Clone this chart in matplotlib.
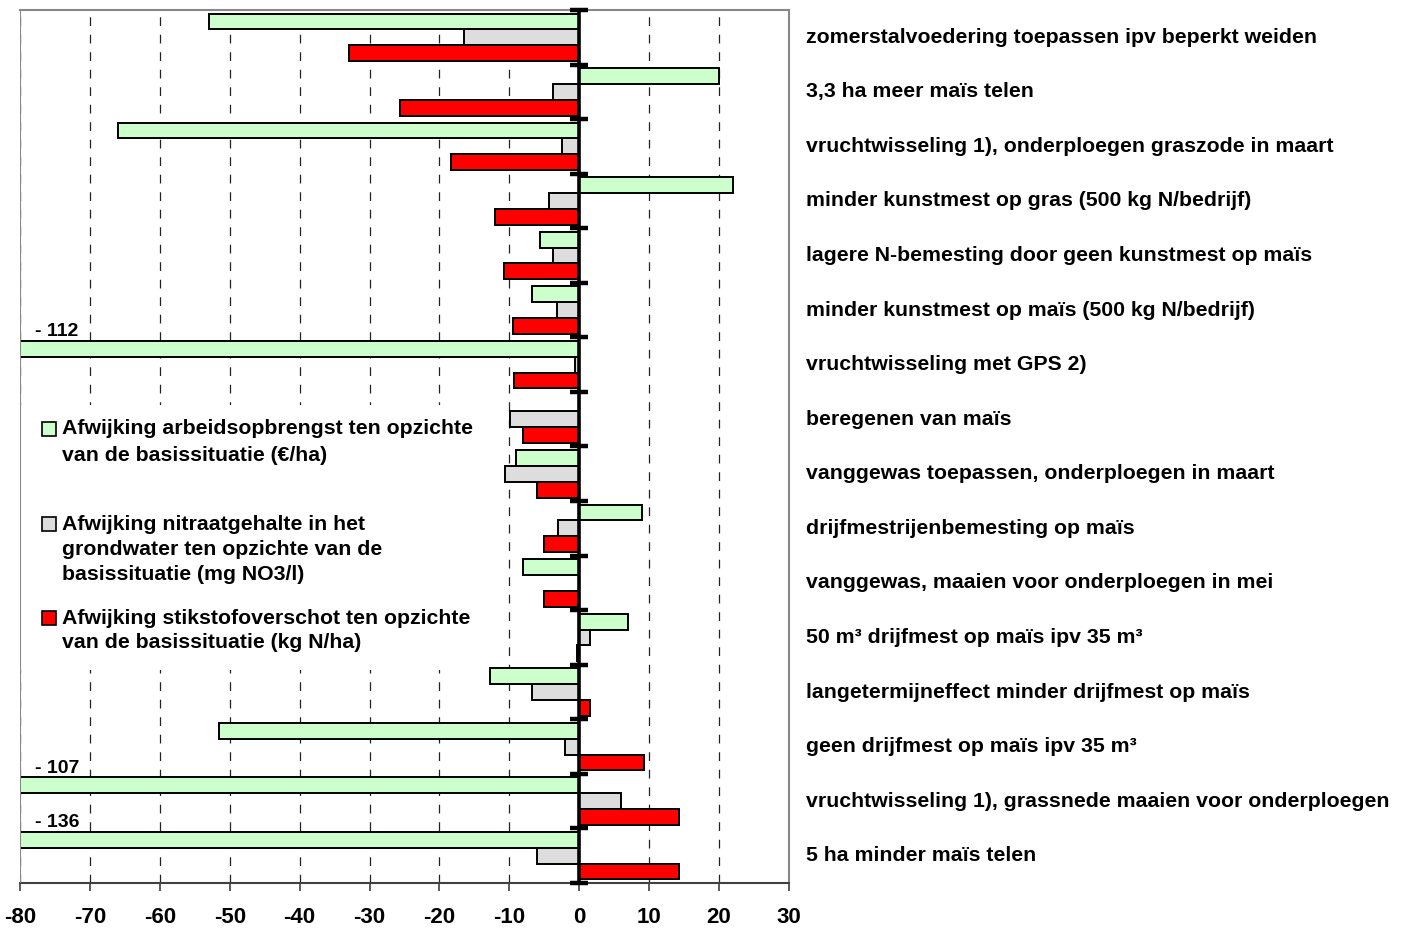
import matplotlib.pyplot as plt
import matplotlib.transforms as mtransforms
from matplotlib.patches import Rectangle
import numpy as np

plt.rcParams['font.family'] = ['Liberation Sans', 'DejaVu Sans']
plt.rcParams['font.weight'] = 'bold'
plt.rcParams['axes.unicode_minus'] = False

# Maatregelen (van boven naar beneden)
maatregelen = [
    'zomerstalvoedering toepassen ipv beperkt weiden',
    '3,3 ha meer maïs telen',
    'vruchtwisseling 1), onderploegen graszode in maart',
    'minder kunstmest op gras (500 kg N/bedrijf)',
    'lagere N-bemesting door geen kunstmest op maïs',
    'minder kunstmest op maïs (500 kg N/bedrijf)',
    'vruchtwisseling met GPS 2)',
    'beregenen van maïs',
    'vanggewas toepassen, onderploegen in maart',
    'drijfmestrijenbemesting op maïs',
    'vanggewas, maaien voor onderploegen in mei',
    '50 m³ drijfmest op maïs ipv 35 m³',
    'langetermijneffect minder drijfmest op maïs',
    'geen drijfmest op maïs ipv 35 m³',
    'vruchtwisseling 1), grassnede maaien voor onderploegen',
    '5 ha minder maïs telen',
]

# Afwijking arbeidsopbrengst (euro/ha)
arbeid = [-53, 20, -66, 22, -5.6, -6.8, -112, 0, -9, 9, -8, 7, -12.8, -51.5, -107, -136]
# Afwijking nitraatgehalte grondwater (mg NO3/l)
nitraat = [-16.5, -3.7, -2.4, -4.4, -3.8, -3.2, -0.6, -9.9, -10.6, -3, 0, 1.6, -6.8, -2, 5.9, -6]
# Afwijking stikstofoverschot (kg N/ha)
stikstof = [-33, -25.7, -18.4, -12, -10.7, -9.5, -9.4, -8, -6, -5.1, -5.1, -0.3, 1.6, 9.2, 14.2, 14.2]

legenda = [
    ['Afwijking arbeidsopbrengst ten opzichte', 'van de basissituatie (€/ha)'],
    ['Afwijking nitraatgehalte in het', 'grondwater ten opzichte van de',
     'basissituatie (mg NO3/l)'],
    ['Afwijking stikstofoverschot ten opzichte', 'van de basissituatie (kg N/ha)'],
]
kleuren = ['#CCFFCC', '#DDDDDD', '#FF0000']

W, H = 1406, 930
fig = plt.figure(figsize=(W / 100, H / 100), dpi=100)
ax = fig.add_axes([20 / W, 1 - 883 / H, 769 / W, 873 / H])

y = np.arange(len(maatregelen))
h = 0.29
for reeks, kleur, off in zip([arbeid, nitraat, stikstof], kleuren, [-h, 0, h]):
    ax.barh(y + off, reeks, height=h, color=kleur, edgecolor='black',
            linewidth=1.4, zorder=3)

ax.set_xlim(-80, 30)
ax.set_ylim(len(maatregelen) - 0.5, -0.5)
ax.set_xticks(np.arange(-80, 31, 10))
ax.tick_params(axis='x', direction='out', length=6, width=1.2, color='#404040',
               pad=11, labelsize=16)
for lbl in ax.get_xticklabels():
    lbl.set_fontweight('bold')

# y-as op x = 0 met streepjes tussen de maatregelen
ax.spines['left'].set_position(('data', 0))
ax.spines['left'].set_linewidth(2.6)
ax.spines['left'].set_zorder(5)
ax.set_yticks(np.arange(len(maatregelen) + 1) - 0.5)
ax.set_yticklabels([])
ax.tick_params(axis='y', direction='inout', length=13, width=3.2, color='black')

for kant in ['top', 'right']:
    ax.spines[kant].set_color('#888888')
    ax.spines[kant].set_linewidth(1.5)
ax.spines['bottom'].set_color('#404040')
ax.spines['bottom'].set_linewidth(1.5)
ax.axvline(-80, color='#888888', lw=1.5, zorder=4)

ax.grid(axis='x', linestyle=(0, (7, 7)), color='#222222', linewidth=0.9)
ax.set_axisbelow(True)
ax.yaxis.set_zorder(5)

# labels voor balken die buiten de as vallen
for i, v in enumerate(arbeid):
    if v < -80:
        ax.text(-77.8, i - h - h / 2 - 0.17, f'- {abs(v):g}', fontsize=14,
                fontweight='bold', ha='left', va='center', zorder=6)

# maatregelen rechts van de grafiek
trans = mtransforms.blended_transform_factory(ax.transAxes, ax.transData)
for i, naam in enumerate(maatregelen):
    ax.text((806 - 20) / 769, i, naam, transform=trans, fontsize=15.3,
            fontweight='bold', ha='left', va='center', clip_on=False)

# legenda in een wit vlak binnen de grafiek
def fx(px):
    return (px - 20) / 769

def fy(py):
    return (883 - py) / 873

ax.add_patch(Rectangle((fx(21), fy(670)), fx(495) - fx(21), fy(405) - fy(670),
                       transform=ax.transAxes, facecolor='white',
                       edgecolor='none', zorder=1))
regels_y = [[429, 455], [524, 549, 574], [618, 643]]
for regels, ys, kleur in zip(legenda, regels_y, kleuren):
    ax.add_patch(Rectangle((fx(42), fy(ys[0] + 7)), 14 / 769, 14 / 873,
                           transform=ax.transAxes, facecolor=kleur,
                           edgecolor='black', linewidth=1.2, zorder=6))
    for regel, py in zip(regels, ys):
        ax.text(fx(62), fy(py), regel, transform=ax.transAxes, fontsize=15.3,
                fontweight='bold', ha='left', va='center', zorder=6)

fig.savefig('out.png', dpi=100)
